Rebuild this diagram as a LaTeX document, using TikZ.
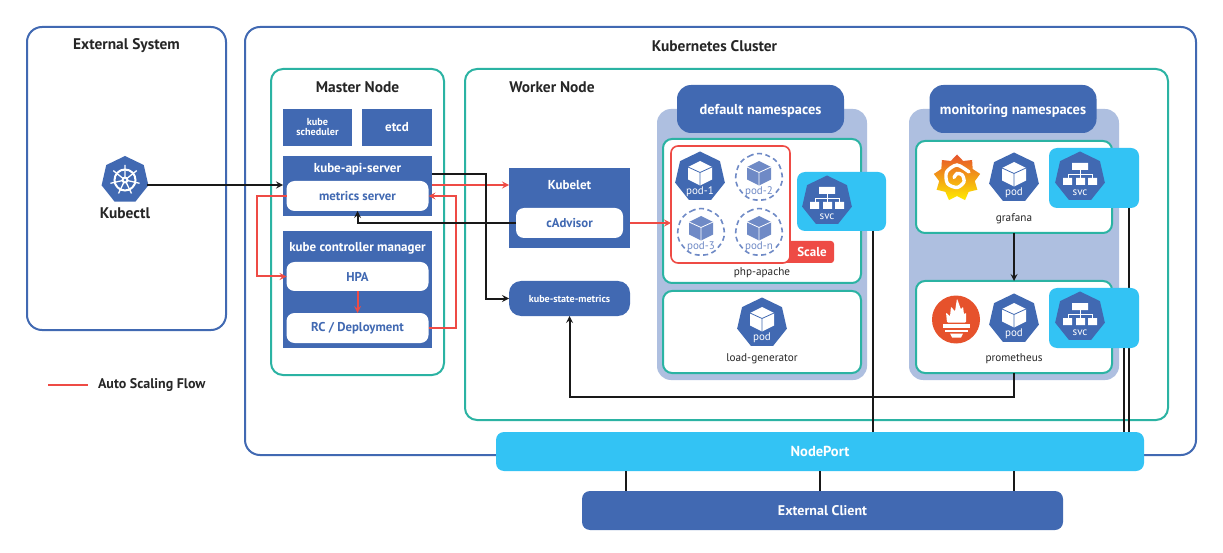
\documentclass[tikz,border=0pt]{standalone}
\usepackage{fontspec}
\setmainfont{PT Sans}
\usetikzlibrary{positioning,shapes.geometric,calc}
\definecolor{kubeblue}{HTML}{4169B2}
\definecolor{paleblue}{HTML}{AEBFE0}
\definecolor{dashblue}{HTML}{6F8AC6}
\definecolor{skyblue}{HTML}{33C3F4}
\definecolor{kubeteal}{HTML}{2BB3A3}
\definecolor{scalered}{HTML}{EE4B45}
\definecolor{promorange}{HTML}{E6522C}

% pod: hexagon badge with a cube and a caption
\newcommand{\podbadge}[4]{%
    \node[#4] (#1) at (#2) {};
    \begin{scope}[shift={(#1.center)}]
        \fill[#4cube] (0,-16) -- (12,-10) -- (12,2.5) -- (0,8.5) -- (-12,2.5) -- (-12,-10) -- cycle;
        \draw[#4edge] (-12,-10) -- (0,-4.5) -- (12,-10) (0,-4.5) -- (0,8.5);
    \end{scope}
    \node[#4text, below=15pt of #1.center, anchor=center] (#1label) {#3};
}
% svc: hexagon badge with a small tree
\newcommand{\svcbadge}[2]{%
    \node[podhex] (#1) at (#2) {};
    \begin{scope}[shift={(#1.center)}]
        \fill[white] (-8,-14) rectangle (8,-7) (-17,1) rectangle (-8,8) (-4,1) rectangle (5,8) (8,1) rectangle (17,8);
        \draw[white, line width=.8pt] (0,-7) -- (0,1) (-12,1) -- (-12,-3) -- (12,-3) -- (12,1);
    \end{scope}
    \node[podhextext, below=16pt of #1.center, anchor=center] (#1label) {svc};
}

\begin{document}
\begin{tikzpicture}[
    x=1pt, y=-1pt,
    plainbox/.style={
        rectangle,
        inner sep=0pt,
        outer sep=0pt,
        align=center
    },
    outerbox/.style={
        plainbox,
        draw=kubeblue,
        line width=2pt,
        rounded corners=15pt,
        fill=white
    },
    tealbox/.style={
        plainbox,
        draw=kubeteal,
        line width=2pt,
        rounded corners=12pt,
        fill=white
    },
    podgroup/.style={
        tealbox,
        rounded corners=9pt
    },
    bluebox/.style={
        plainbox,
        fill=kubeblue,
        text=white,
        font=\bfseries\fontsize{13}{13}\selectfont
    },
    whitebox/.style={
        plainbox,
        fill=white,
        rounded corners=8pt,
        text=kubeblue,
        font=\bfseries\fontsize{12.8}{13}\selectfont
    },
    namespace/.style={
        plainbox,
        fill=paleblue,
        rounded corners=14pt,
        minimum width=210pt,
        minimum height=271pt
    },
    nshead/.style={
        bluebox,
        rounded corners=14pt,
        minimum width=167pt,
        minimum height=48pt,
        text depth=0pt,
        font=\bfseries\fontsize{14.4}{14}\selectfont
    },
    svcbox/.style={
        plainbox,
        fill=skyblue,
        rounded corners=8pt,
        minimum width=90pt,
        minimum height=60pt
    },
    title/.style={
        plainbox,
        text=black!85,
        font=\bfseries\fontsize{15.4}{15}\selectfont
    },
    podname/.style={
        plainbox,
        text=black!85,
        font=\fontsize{11.2}{11}\selectfont
    },
    podhex/.style={
        regular polygon,
        regular polygon sides=7,
        minimum size=51pt,
        inner sep=0pt,
        outer sep=0pt,
        fill=kubeblue
    },
    podhexcube/.style={fill=white},
    podhexedge/.style={draw=kubeblue, line width=.8pt},
    podhextext/.style={plainbox, text=white, font=\fontsize{11}{11}\selectfont},
    ghosthex/.style={
        regular polygon,
        regular polygon sides=7,
        minimum size=51pt,
        inner sep=0pt,
        outer sep=0pt,
        rounded corners=8pt,
        draw=dashblue,
        line width=1.6pt,
        dash pattern=on 5pt off 3.5pt
    },
    ghosthexcube/.style={fill=dashblue},
    ghosthexedge/.style={draw=white, line width=.8pt},
    ghosthextext/.style={plainbox, text=dashblue, font=\fontsize{11}{11}\selectfont},
    flow/.style={line width=2pt, draw=black!90},
    flowarrow/.style={flow, ->, >=stealth},
    redflow/.style={line width=2pt, draw=scalered},
    redarrow/.style={redflow, ->, >=stealth}
]
    \useasboundingbox (0,0) rectangle (1223,553);

    % External system
    \node[outerbox, minimum width=199pt, minimum height=303pt] (external) at (126.5,178.5) {};
    \node[title, below=19pt of external.north, anchor=center] (externaltitle) {External System};
    \node[podhex, minimum size=48pt] (kubectl) at (125,180) {};
    \begin{scope}[shift={(kubectl.center)}]
        \draw[white, line width=2pt] (0,0) circle (10.5);
        \draw[white, line width=1.3pt] (0,0) -- (0,-15) (0,0) -- (11.7,-9.4) (0,0) -- (14.6,3.3) (0,0) -- (6.5,13.5) (0,0) -- (-6.5,13.5) (0,0) -- (-14.6,3.3) (0,0) -- (-11.7,-9.4);
        \fill[white] (0,0) circle (3.5);
        \fill[kubeblue] (0,0) circle (1.3);
    \end{scope}
    \node[title, below=33pt of kubectl.center, anchor=center] (kubectllabel) {Kubectl};

    % Legend
    \coordinate (legendstart) at (48,385);
    \coordinate (legendend) at (88,385);
    \draw[redflow] (legendstart) -- (legendend);
    \node[title, right=10pt of legendend, font=\bfseries\fontsize{14}{14}\selectfont] (legendtext) {Auto Scaling Flow};

    % Cluster
    \node[outerbox, minimum width=951pt, minimum height=428pt] (cluster) at (720.5,241) {};
    \node[title, below=19pt of cluster.north, anchor=center, xshift=-6pt] (clustertitle) {Kubernetes Cluster};

    % NodePort and client
    \node[plainbox, fill=skyblue, text=white, rounded corners=8pt, minimum width=648pt, minimum height=39pt,
        font=\bfseries\fontsize{14.5}{14}\selectfont] (nodeport) at (820,451.5) {NodePort};
    \node[bluebox, rounded corners=8pt, minimum width=481pt, minimum height=39pt,
        font=\bfseries\fontsize{14}{14}\selectfont] (client) at (822.5,510.5) {External Client};
    \coordinate (clientleft) at ($(nodeport.south)+(-194,0)$);
    \coordinate (clientright) at ($(nodeport.south)+(194,0)$);
    \draw[flow] (nodeport.south) -- (nodeport.south |- client.north);
    \draw[flow] (clientleft) -- (clientleft |- client.north);
    \draw[flow] (clientright) -- (clientright |- client.north);

    % Master node
    \node[tealbox, minimum width=173pt, minimum height=306pt] (master) at (357.5,222) {};
    \node[title, below=18pt of master.north, anchor=center] (mastertitle) {Master Node};
    \node[bluebox, minimum width=69pt, minimum height=37pt, font=\bfseries\fontsize{10.2}{10}\selectfont] (scheduler) at (317.5,127.5) {kube\\scheduler};
    \node[bluebox, minimum width=70pt, minimum height=37pt, right=10pt of scheduler] (etcd) {etcd};
    \node[bluebox, minimum width=149pt, minimum height=60pt, below=10pt of scheduler.south west, anchor=north west] (api) {};
    \node[bluebox, below=13pt of api.north, anchor=center] (apititle) {kube-api-server};
    \node[whitebox, minimum width=142pt, minimum height=30pt, below=25pt of api.north] (metrics) {metrics server};
    \node[bluebox, minimum width=149pt, minimum height=117pt, below=15pt of api] (controller) {};
    \node[bluebox, below=17pt of controller.north, anchor=center] (controllertitle) {kube controller manager};
    \node[whitebox, minimum width=142pt, minimum height=29pt, below=31pt of controller.north] (hpa) {HPA};
    \node[whitebox, minimum width=142pt, minimum height=30pt, below=22pt of hpa] (deployment) {RC / Deployment};

    % Worker node
    \node[tealbox, minimum width=703pt, minimum height=351pt] (worker) at (816.5,244.5) {};
    \node[title, below=18pt of worker.north west, anchor=center, xshift=87pt] (workertitle) {Worker Node};
    \node[bluebox, minimum width=121pt, minimum height=80pt] (kubelet) at (569.5,208) {};
    \node[bluebox, below=17pt of kubelet.north, anchor=center] (kubelettitle) {Kubelet};
    \node[whitebox, minimum width=107pt, minimum height=30pt, below=40pt of kubelet.north] (cadvisor) {cAdvisor};
    \node[bluebox, rounded corners=12pt, minimum width=121pt, minimum height=35pt, below=33pt of kubelet,
        font=\bfseries\fontsize{10.1}{10}\selectfont] (statemetrics) {kube-state-metrics};

    % Default namespace
    \node[namespace] (defaultns) at (762,244.5) {};
    \node[nshead] (defaulthead) at (760.5,109) {default namespaces};
    \node[podgroup, minimum width=198pt, minimum height=144pt] (phpapache) at (762,211) {};
    \node[podname, below=134pt of phpapache.north, anchor=center] (phpapachelabel) {php-apache};
    \node[podgroup, minimum width=198pt, minimum height=82pt, below=8pt of phpapache] (loadgen) {};
    \node[plainbox, fill=scalered, text=white, rounded corners=3pt, minimum width=62pt, minimum height=22pt,
        font=\bfseries\fontsize{13}{13}\selectfont, text depth=0pt] (scale) at (803,252) {\hspace*{18pt}Scale};
    \node[plainbox, fill=white, draw=scalered, line width=1.6pt, rounded corners=7pt, minimum width=119pt, minimum height=117pt] (scalebox) at (730.5,204.5) {};
    \podbadge{podone}{700,177}{pod-1}{podhex}
    \podbadge{podtwo}{759,177}{pod-2}{ghosthex}
    \podbadge{podthree}{701,232}{pod-3}{ghosthex}
    \podbadge{podn}{759,232}{pod-n}{ghosthex}
    \podbadge{podload}{762,323}{pod}{podhex}
    \node[podname, below=68pt of loadgen.north, anchor=center] (loadgenlabel) {load-generator};
    \node[svcbox, minimum width=89pt, minimum height=59pt] (defaultsvc) at (841.5,201.5) {};
    \svcbadge{defaultsvcicon}{827,201}
    \coordinate (defaultdrop) at ($(defaultsvc.south east)+(-13,0)$);
    \draw[flow] (defaultdrop) -- (defaultdrop |- nodeport.north);

    % Monitoring namespace
    \node[namespace] (monitorns) at (1014,244.5) {};
    \node[nshead] (monitorhead) at (1013,109) {monitoring namespaces};
    \node[podgroup, minimum width=196pt, minimum height=92pt] (grafana) at (1014,187) {};
    \node[podgroup, minimum width=196pt, minimum height=92pt, below=48pt of grafana] (prometheus) {};
    \node[podname, below=78pt of grafana.north, anchor=center] (grafanalabel) {grafana};
    \node[podname, below=78pt of prometheus.north, anchor=center] (prometheuslabel) {prometheus};
    \draw[flowarrow] (grafana) -- (prometheus);
    \podbadge{podgrafana}{1014,178}{pod}{podhex}
    \podbadge{podprometheus}{1014,319}{pod}{podhex}

    % Grafana logo
    \node[star, star points=9, star point ratio=1.3, minimum size=47pt, inner sep=0pt, top color=promorange, bottom color=yellow!85!orange] (grafanalogo) at (957,178) {};
    \begin{scope}[shift={(grafanalogo.center)}]
        \draw[white, line width=3.4pt, line cap=round] plot[smooth] coordinates {(12,-6) (0,-13) (-10.4,-6) (-9.5,5.5) (0,9.5) (6.9,4) (5.2,-3) (0,-4.5) (-3,-.5)};
    \end{scope}

    % Prometheus logo
    \node[circle, fill=promorange, minimum size=48pt, inner sep=0pt] (promlogo) at (956,319.5) {};
    \begin{scope}[shift={(promlogo.center)}]
        \fill[white, rounded corners=1pt] (-9,3) -- (-10,-7) -- (-6,-3) -- (-5,-13) -- (-1,-8) -- (1,-21) -- (5,-10) -- (7,-13) -- (8,-5) -- (10,-7) -- (10,3) -- cycle;
        \fill[white] (-13,4.5) rectangle (14,8.5);
        \fill[white] (-11,10) rectangle (12,12.5);
        \fill[white] (-6,14) -- (7,14) -- (5,18) -- (-4,18) -- cycle;
    \end{scope}

    % Service boxes
    \node[svcbox] (grafanasvc) at (1094,178) {};
    \svcbadge{grafanasvcicon}{1080,177}
    \coordinate (grafanadrop) at ($(grafanasvc.south east)+(-10,0)$);
    \draw[flow] (grafanadrop) -- (grafanadrop |- nodeport.north);
    \node[svcbox] (prometheussvc) at (1094,318) {};
    \svcbadge{prometheussvcicon}{1080,317}
    \coordinate (prometheusdrop) at ($(prometheussvc.south east)+(-15,0)$);
    \draw[flow] (prometheusdrop) -- (prometheusdrop |- nodeport.north);

    % Auto scaling arrows
    \coordinate (apired) at ($(api.north east)+(0,29)$);
    \draw[redarrow] (apired) -- (apired -| kubelet.west);
    \draw[redarrow] (metrics.west) -- ++(-30,0) |- (hpa.west);
    \draw[redarrow] (hpa) -- (deployment);
    \draw[redarrow] (deployment.east) -- ++(27,0) |- (metrics.east);
    \draw[redarrow] (kubelet.east |- cadvisor) -- (cadvisor -| scalebox.west);

    % Metrics arrows
    \coordinate (apiin) at ($(api.north west)+(0,29)$);
    \coordinate (apiblack) at ($(api.north east)+(0,18)$);
    \draw[flowarrow] (kubectl.east |- apiin) -- (apiin);
    \draw[flowarrow] (apiblack) -- ++(54,0) |- (statemetrics.west);
    \draw[flowarrow] (cadvisor.west) -| (metrics.south);
    \draw[flowarrow] (prometheus.south) -- ++(0,24) -| (statemetrics.south);
\end{tikzpicture}
\end{document}
